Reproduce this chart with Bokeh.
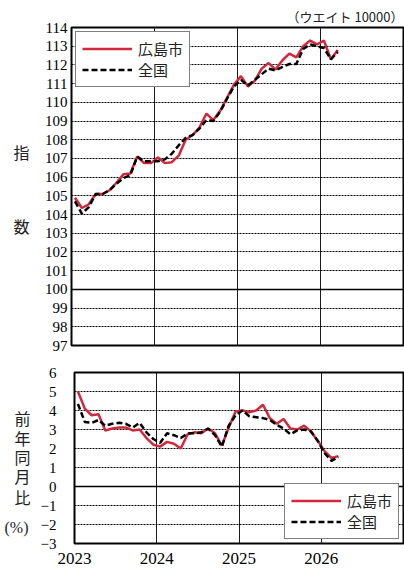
import pandas as pd
from bokeh.plotting import figure
from bokeh.models import Range1d, FixedTicker, Span, Legend, LegendItem
from bokeh.layouts import column, row
from bokeh.embed import file_html
from bokeh.resources import INLINE
from bokeh.core.properties import value

# ---- data ----
months = pd.period_range("2023-01", "2026-03", freq="M")
x = [m.year + (m.month - 0.5) / 12 for m in months]

hiroshima_index = [
    104.9, 104.35, 104.55, 105.1, 105.1, 105.3, 105.7, 106.15, 106.2, 107.1, 106.75, 106.75,
    107.05, 106.75, 106.8, 107.15, 108.0, 108.25, 108.65, 109.4, 109.05, 109.55, 110.25, 110.95,
    111.4, 110.85, 111.15, 111.8, 112.1, 111.75, 112.25, 112.6, 112.4, 113.0, 113.3, 113.1,
    113.3, 112.3, 112.8,
]
national_index = [
    104.7, 104.05, 104.4, 105.1, 105.1, 105.3, 105.65, 105.95, 106.1, 107.1, 106.85, 106.85,
    106.85, 106.95, 107.25, 107.7, 108.1, 108.25, 108.6, 109.05, 109.0, 109.5, 110.2, 110.85,
    111.2, 110.9, 111.2, 111.5, 111.8, 111.7, 111.9, 112.05, 112.05, 112.85, 113.1, 113.0,
    112.9, 112.3, 112.7,
]
hiroshima_yoy = [
    5.0, 4.1, 3.75, 3.8, 2.95, 3.05, 3.1, 3.1, 2.95, 3.0, 2.55, 2.2,
    2.1, 2.35, 2.25, 2.0, 2.75, 2.85, 2.8, 3.05, 2.8, 2.15, 3.1, 3.95,
    4.0, 3.9, 4.0, 4.3, 3.6, 3.3, 3.55, 3.05, 3.0, 3.2, 2.9, 2.4,
    1.85, 1.5, 1.6,
]
national_yoy = [
    4.35, 3.4, 3.35, 3.5, 3.2, 3.3, 3.35, 3.3, 3.1, 3.35, 2.85, 2.5,
    2.3, 2.8, 2.7, 2.55, 2.8, 2.8, 2.85, 3.05, 2.7, 2.1, 3.2, 3.75,
    4.0, 3.7, 3.65, 3.6, 3.5, 3.25, 3.05, 2.75, 2.95, 3.0, 2.9, 2.4,
    1.75, 1.35, 1.55,
]

index_ticks = list(range(97, 115))
yoy_ticks = list(range(-3, 7))
year_ticks = [2023, 2024, 2025, 2026]
year_labels = {2023: "2023", 2024: "2024", 2025: "2025", 2026: "2026"}
yoy_labels = {-3: "\u22123", -2: "\u22122", -1: "\u22121"}

series_names = ["広島市", "全国"]
weight_note = "（ウエイト 10000）"
index_title_chars = ["指", "数"]
index_title_at = [107.35, 103.4]          # vertical positions in index units
yoy_title_chars = ["前", "年", "同", "月", "比"]
yoy_title_at = [3.58, 2.53, 1.53, 0.53, -0.53]
unit_text = "(%)"
unit_at = -2.16

RED = "#d2283c"
JP = "Noto Sans CJK JP"
SERIF = "Liberation Serif"
LBL_W = 37          # narrow figure holding the vertical titles
W = 404 - LBL_W
LEFT = 34
RIGHT = 1
H1, T1, B1 = 358, 27, 13
H2, T2, B2 = 214, 14, 29


def style(p, yticks, standoff):
    p.outline_line_color = "black"
    p.outline_line_width = 2
    p.background_fill_color = "white"
    p.border_fill_color = "white"
    p.xgrid.ticker = FixedTicker(ticks=year_ticks[1:])
    p.xgrid.grid_line_color = "#1a1a1a"
    p.xgrid.grid_line_width = 1
    p.ygrid.ticker = FixedTicker(ticks=yticks)
    p.ygrid.grid_line_color = "black"
    p.ygrid.grid_line_dash = "2 1"
    p.ygrid.grid_line_width = 1
    ax = p.yaxis[0]
    ax.ticker = FixedTicker(ticks=yticks)
    ax.axis_line_color = None
    ax.major_tick_line_color = None
    ax.minor_tick_line_color = None
    ax.major_tick_out = 0
    ax.major_tick_in = 0
    ax.major_label_standoff = standoff
    ax.major_label_text_font = SERIF
    ax.major_label_text_font_size = "15px"
    ax.major_label_text_color = "black"


def legend(p, r_red, r_black, loc):
    leg = Legend(
        items=[LegendItem(label=series_names[0], renderers=[r_red]),
               LegendItem(label=series_names[1], renderers=[r_black])],
        location=loc, margin=4, padding=6, spacing=0,
        glyph_width=50, glyph_height=17, label_height=17, label_standoff=6,
        label_text_font=JP, label_text_font_size="15px", label_text_color="#222222",
        border_line_color="black", border_line_width=1.5,
        background_fill_color="white", background_fill_alpha=1.0,
    )
    p.add_layout(leg)


def title_fig(y_range, height, top, bottom):
    f = figure(width=LBL_W, height=height, x_range=Range1d(0, LBL_W), y_range=y_range,
               output_backend="svg", toolbar_location=None,
               min_border_left=0, min_border_right=0, min_border_top=top, min_border_bottom=bottom)
    f.axis.visible = False
    f.grid.visible = False
    f.outline_line_color = None
    f.background_fill_color = "white"
    f.border_fill_color = "white"
    return f


def add_text(f, chars, ys, font, size, xpos):
    f.text(x=[xpos] * len(chars), y=ys, text=chars, text_font=value(font),
           text_font_size=size, text_color="#222222",
           text_align="center", text_baseline="middle")


# ---- top: index ----
p1 = figure(width=W, height=H1, x_range=Range1d(2023, 2027), y_range=Range1d(97, 114),
            output_backend="svg", toolbar_location=None,
            min_border_left=LEFT, min_border_right=RIGHT, min_border_top=T1, min_border_bottom=B1)
style(p1, index_ticks, 4)
p1.title.text = weight_note
p1.title.align = "right"
p1.title.offset = 0
p1.title.text_font = JP
p1.title.text_font_size = "13px"
p1.title.text_font_style = "normal"
p1.title.text_color = "#222222"
p1.title.standoff = 3
p1.xaxis.visible = False
p1.add_layout(Span(location=100, dimension="width", line_color="black", line_width=1.5))
r1 = p1.line(x, hiroshima_index, line_color=RED, line_width=2.5)
k1 = p1.line(x, national_index, line_color="black", line_width=2.5, line_dash="6 3")
legend(p1, r1, k1, "top_left")

l1 = title_fig(p1.y_range, H1, T1, B1)
add_text(l1, index_title_chars, index_title_at, JP, "16px", 21)

# ---- bottom: year-on-year ----
p2 = figure(width=W, height=H2, x_range=p1.x_range, y_range=Range1d(-3, 6),
            output_backend="svg", toolbar_location=None,
            min_border_left=LEFT, min_border_right=RIGHT, min_border_top=T2, min_border_bottom=B2)
style(p2, yoy_ticks, 18)
p2.yaxis[0].major_label_overrides = yoy_labels
xa = p2.xaxis[0]
xa.ticker = FixedTicker(ticks=year_ticks)
xa.major_label_overrides = year_labels
xa.axis_line_color = None
xa.major_tick_line_color = None
xa.minor_tick_line_color = None
xa.major_tick_out = 0
xa.major_tick_in = 0
xa.major_label_standoff = 9
xa.major_label_text_font = SERIF
xa.major_label_text_font_size = "17px"
xa.major_label_text_color = "black"
p2.add_layout(Span(location=0, dimension="width", line_color="black", line_width=1.5))
r2 = p2.line(x, hiroshima_yoy, line_color=RED, line_width=2.5)
k2 = p2.line(x, national_yoy, line_color="black", line_width=2.5, line_dash="6 3")
legend(p2, r2, k2, "bottom_right")

l2 = title_fig(p2.y_range, H2, T2, B2)
add_text(l2, yoy_title_chars, yoy_title_at, JP, "16px", 22)
add_text(l2, [unit_text], [unit_at], SERIF, "16px", 16)

layout = column(row(l1, p1), row(l2, p2))
open("out.html", "w").write(file_html(layout, INLINE))
